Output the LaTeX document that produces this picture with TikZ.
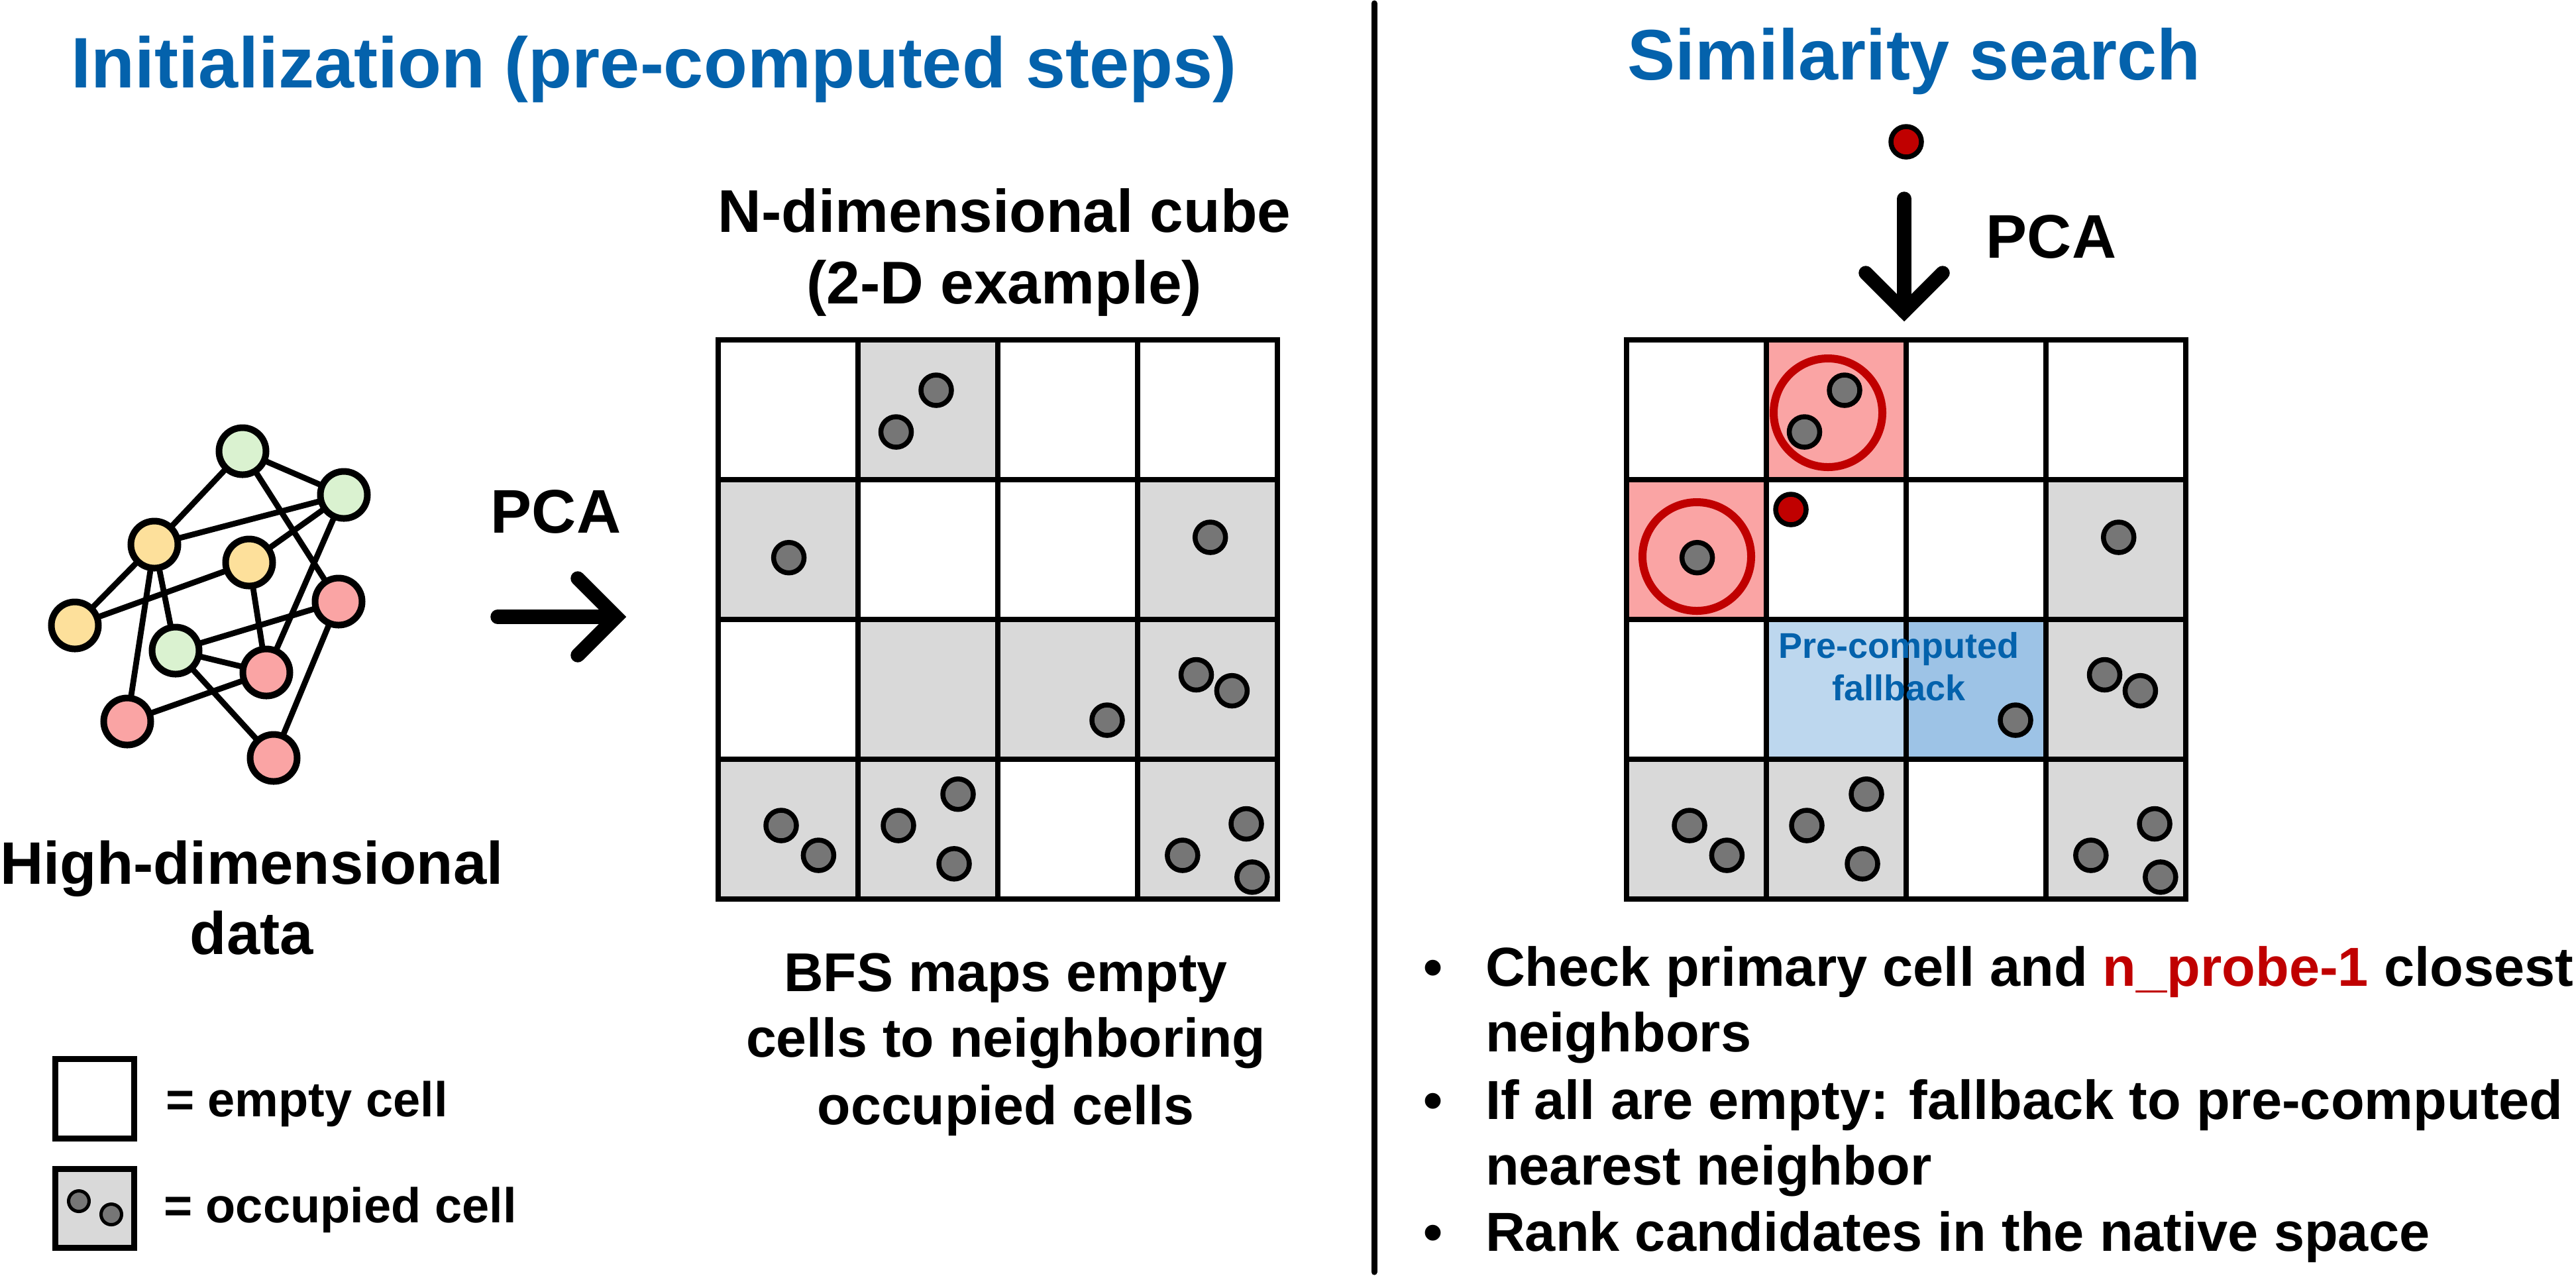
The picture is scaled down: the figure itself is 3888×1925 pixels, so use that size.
\documentclass[tikz,border=0pt]{standalone}
\usepackage{fontspec}
\setmainfont{Liberation Sans}
\definecolor{tblue}{RGB}{4,98,172}
\definecolor{cellgray}{RGB}{217,217,217}
\definecolor{dotgray}{RGB}{118,118,118}
\definecolor{darkred}{RGB}{192,0,0}
\definecolor{pinkc}{RGB}{250,164,164}
\definecolor{lblue}{RGB}{189,215,238}
\definecolor{mblue}{RGB}{157,195,230}
\definecolor{ngreen}{RGB}{218,242,208}
\definecolor{nyellow}{RGB}{253,224,155}
\definecolor{nred}{RGB}{250,164,164}
\newcommand{\fsz}[1]{\fontsize{#1pt}{#1pt}\selectfont\bfseries}
\begin{document}
\begin{tikzpicture}[x=0.2pt,y=-0.2pt,
  gnode/.style={circle,draw=black,line width=2pt,minimum size=14.2pt,inner sep=0pt,outer sep=0pt},
  edge/.style={line width=1.75pt},
  gridline/.style={line width=1.6pt},
  dot/.style={draw=black,fill=dotgray,line width=1.5pt},
  qdot/.style={draw=black,fill=darkred,line width=1.5pt},
  ring/.style={draw=darkred,line width=2.4pt},
  txt/.style={inner sep=0pt,outer sep=0pt,anchor=base},
  arrowline/.style={line width=4.3pt,line cap=round,line join=miter}]
\useasboundingbox (0,0) rectangle (3888,1925);

% titles
\node[txt,text=tblue,font=\fsz{21.6}] (t1) at (987,132) {Initialization (pre-computed steps)};
\node[txt,text=tblue,font=\fsz{21.6}] (t2) at (2889,120) {Similarity search};

% divider
\coordinate (dvtop) at (2074,5);
\coordinate (dvbot) at (2074,1920);
\draw[line width=1.8pt,line cap=round] (dvtop) -- (dvbot);

% graph
\node[gnode,fill=ngreen]  (A) at (366,681) {};
\node[gnode,fill=ngreen]  (B) at (519,747) {};
\node[gnode,fill=nyellow] (C) at (233,822) {};
\node[gnode,fill=nyellow] (D) at (376,849) {};
\node[gnode,fill=nyellow] (E) at (113,944) {};
\node[gnode,fill=ngreen]  (F) at (265,982) {};
\node[gnode,fill=nred]    (G) at (511,908) {};
\node[gnode,fill=nred]    (H) at (402,1015) {};
\node[gnode,fill=nred]    (I) at (192,1089) {};
\node[gnode,fill=nred]    (J) at (413,1144) {};
\foreach \a/\b in {A/C,A/B,A/G,B/C,B/D,B/H,C/E,C/I,C/F,D/E,D/H,F/G,F/H,F/J,I/H,G/J}
  \draw[edge] (\a) -- (\b);

\node[txt,font=\fsz{18.1}] (hd1) at (380,1334) {High-dimensional};
\node[txt,font=\fsz{18.1}] (hd2) at (380,1440) {data};

% legend
\draw[line width=1.8pt,fill=white] (83,1598) rectangle (202,1718);
\node[txt,anchor=base west,font=\fsz{14.8}] (lg1) at (250,1685) {= empty cell};
\draw[line width=1.8pt,fill=cellgray] (83,1764) rectangle (202,1883);
\draw[dot,line width=1pt] (119,1813) circle[radius=15.5];
\draw[dot,line width=1pt] (168,1833) circle[radius=15.5];
\node[txt,anchor=base west,font=\fsz{14.8}] (lg2) at (247,1845) {= occupied cell};

% left PCA arrow
\node[txt,font=\fsz{18.6}] (pca1) at (839,804) {PCA};
\coordinate (la1) at (751,931);
\coordinate (la2) at (928,931);
\draw[arrowline] (la1) -- (la2);
\draw[arrowline] (872,873) -- (930,931) -- (872,989);

% cube caption
\node[txt,font=\fsz{18.2}] (nd1) at (1516,350) {N-dimensional cube};
\node[txt,font=\fsz{18.2}] (nd2) at (1516,458) {(2-D example)};

% left grid
\begin{scope}[shift={(1084,513)}]
  \foreach \c/\r in {1/0,0/1,3/1,1/2,2/2,3/2,0/3,1/3,3/3}
    \fill[cellgray] (\c*211,\r*211) rectangle ++(211,211);
  \foreach \i in {1,2,3} {
    \draw[gridline] (\i*211,0) -- (\i*211,844);
    \draw[gridline] (0,\i*211) -- (844,\i*211);
  }
  \draw[gridline] (0,0) rectangle (844,844);
  \foreach \x/\y in {329/76,268.5/139,106.6/328.7,742.7/298,721.5/505.5,775.4/529.6,587/574,95/733,151.4/778,272/733,362/685.7,356/790.8,700.8/778,797/730.5,805.8/810.9}
    \draw[dot] (\x,\y) circle[radius=23];
\end{scope}

\node[txt,font=\fsz{16.5}] (bf1) at (1518,1496) {BFS maps empty};
\node[txt,font=\fsz{16.5}] (bf2) at (1518,1595) {cells to neighboring};
\node[txt,font=\fsz{16.5}] (bf3) at (1518,1697) {occupied cells};

% right side: query
\draw[qdot] (2877,214) circle[radius=23];
\coordinate (ra1) at (2874,300);
\coordinate (ra2) at (2874,470);
\draw[arrowline] (ra1) -- (ra2);
\draw[arrowline] (2816,412) -- (2874,470) -- (2932,412);
\node[txt,font=\fsz{18.6}] (pca2) at (3096,389) {PCA};

% right grid
\begin{scope}[shift={(2455,513)}]
  \foreach \c/\r in {3/1,3/2,0/3,1/3,3/3}
    \fill[cellgray] (\c*211,\r*211) rectangle ++(211,211);
  \foreach \c/\r in {1/0,0/1}
    \fill[pinkc] (\c*211,\r*211) rectangle ++(211,211);
  \fill[lblue] (211,422) rectangle ++(211,211);
  \fill[mblue] (422,422) rectangle ++(211,211);
  \foreach \i in {1,2,3} {
    \draw[gridline] (\i*211,0) -- (\i*211,844);
    \draw[gridline] (0,\i*211) -- (844,\i*211);
  }
  \draw[gridline] (0,0) rectangle (844,844);
  \foreach \x/\y in {329/76,268.5/139,106.6/328.7,742.7/298,721.5/505.5,775.4/529.6,587/574,95/733,151.4/778,272/733,362/685.7,356/790.8,700.8/778,797/730.5,805.8/810.9}
    \draw[dot] (\x,\y) circle[radius=23];
  \draw[ring] (304,110) circle[radius=82];
  \draw[ring] (106,327) circle[radius=82];
  \draw[qdot] (248,256) circle[radius=23];
\end{scope}
\node[txt,text=tblue,font=\fsz{10.8}] (fb1) at (2866,993) {Pre-computed};
\node[txt,text=tblue,font=\fsz{10.8}] (fb2) at (2866,1057) {fallback};

% bullets
\foreach \n/\y in {b1/1488,b3/1689,b5/1888}
  \node[txt,font=\fsz{16.6}] (\n) at (2163,\y) {\textbullet};
\node[txt,anchor=base west,font=\fsz{16.6}] (l1) at (2242,1488) {Check primary cell and \textcolor{darkred}{n\_probe-1} closest};
\node[txt,anchor=base west,font=\fsz{16.6}] (l2) at (2242,1587) {neighbors};
\node[txt,anchor=base west,font=\fsz{16.6}] (l3) at (2242,1689) {If all are empty: fallback to pre-computed};
\node[txt,anchor=base west,font=\fsz{16.6}] (l4) at (2242,1788) {nearest neighbor};
\node[txt,anchor=base west,font=\fsz{16.6}] (l5) at (2242,1888) {Rank candidates in the native space};
\end{tikzpicture}
\end{document}
